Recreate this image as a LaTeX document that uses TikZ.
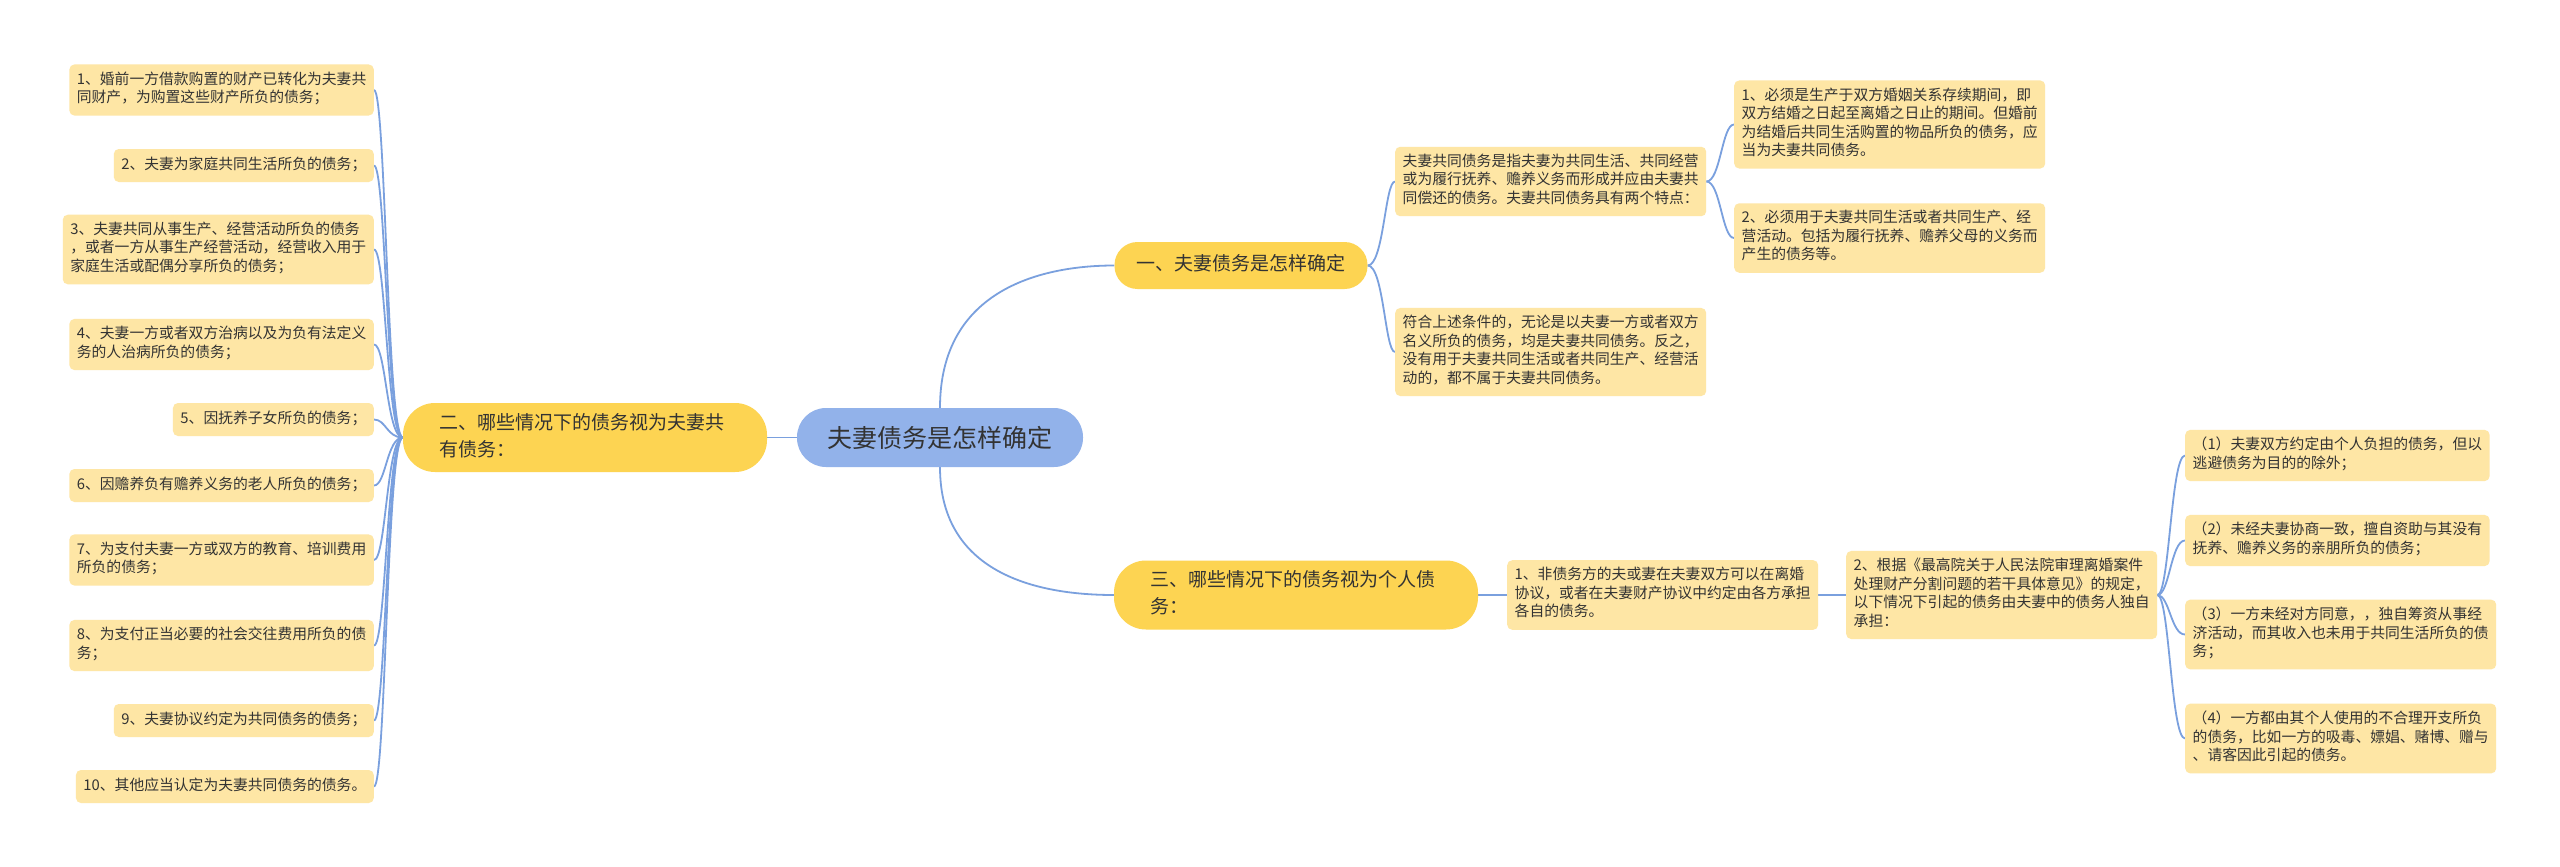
\documentclass[tikz,border=0pt]{standalone}
\usepackage{fontspec}
\newfontfamily\cjkf{Noto Sans CJK SC}
\definecolor{rootblue}{HTML}{92B2EA}
\definecolor{branchyel}{HTML}{FDD452}
\definecolor{leafyel}{HTML}{FEE6A5}
\definecolor{linkblue}{HTML}{7AA0DE}
\definecolor{txt}{HTML}{333333}
\pgfdeclarelayer{bg}
\pgfsetlayers{bg,main}
\begin{document}
\begin{tikzpicture}[x=1pt,y=-1pt,
  leaf/.style={fill=leafyel,rounded corners=5pt,inner xsep=7.5pt,inner ysep=7.25pt,align=left,text=txt,
    font=\cjkf\fontsize{14.8pt}{18.5pt}\selectfont,execute at begin node=\strut,execute at end node=\strut},
  branch/.style={fill=branchyel,text=txt,align=left,font=\cjkf\fontsize{19pt}{27pt}\selectfont,
    execute at begin node=\strut,execute at end node=\strut},
  twoline/.style={branch,rounded corners=32pt,text width=292pt,inner xsep=36pt,inner ysep=7.5pt},
  rootnode/.style={fill=rootblue,text=txt,rounded corners=29pt,minimum width=286pt,minimum height=59pt,
    font=\cjkf\fontsize{25pt}{30pt}\selectfont},
  conn/.style={draw=linkblue,line width=1.8pt}]
\useasboundingbox (0,0) rectangle (2560,867);

% root and branches
\node[rootnode] (root) at (940,437.5) {夫妻债务是怎样确定};
\node[branch,rounded corners=23pt,inner xsep=22pt,inner ysep=10pt] (b1) at (1241,265.5) {一、夫妻债务是怎样确定};
\node[twoline] (b2) at (585,437.5) {二、哪些情况下的债务视为夫妻共\\有债务：};
\node[twoline] (b3) at (1296,595) {三、哪些情况下的债务视为个人债\\务：};

% left leaves
\node[leaf,anchor=east] (L1) at (374,90) {1、婚前一方借款购置的财产已转化为夫妻共\\同财产，为购置这些财产所负的债务；};
\node[leaf,anchor=east] (L2) at (374,165.5) {2、夫妻为家庭共同生活所负的债务；};
\node[leaf,anchor=east] (L3) at (374,249.5) {3、夫妻共同从事生产、经营活动所负的债务\\，或者一方从事生产经营活动，经营收入用于\\家庭生活或配偶分享所负的债务；};
\node[leaf,anchor=east] (L4) at (374,344.5) {4、夫妻一方或者双方治病以及为负有法定义\\务的人治病所负的债务；};
\node[leaf,anchor=east] (L5) at (374,419.5) {5、因抚养子女所负的债务；};
\node[leaf,anchor=east] (L6) at (374,485.5) {6、因赡养负有赡养义务的老人所负的债务；};
\node[leaf,anchor=east] (L7) at (374,560) {7、为支付夫妻一方或双方的教育、培训费用\\所负的债务；};
\node[leaf,anchor=east] (L8) at (374,645.5) {8、为支付正当必要的社会交往费用所负的债\\务；};
\node[leaf,anchor=east] (L9) at (374,720.5) {9、夫妻协议约定为共同债务的债务；};
\node[leaf,anchor=east] (L10) at (374,786.5) {10、其他应当认定为夫妻共同债务的债务。};

% branch one children
\node[leaf,anchor=west] (def) at (1395,181.5) {夫妻共同债务是指夫妻为共同生活、共同经营\\或为履行抚养、赡养义务而形成并应由夫妻共\\同偿还的债务。夫妻共同债务具有两个特点：};
\node[leaf,anchor=west] (cond) at (1395,352) {符合上述条件的，无论是以夫妻一方或者双方\\名义所负的债务，均是夫妻共同债务。反之，\\没有用于夫妻共同生活或者共同生产、经营活\\动的，都不属于夫妻共同债务。};
\node[leaf,anchor=west] (C1) at (1734,124.5) {1、必须是生产于双方婚姻关系存续期间，即\\双方结婚之日起至离婚之日止的期间。但婚前\\为结婚后共同生活购置的物品所负的债务，应\\当为夫妻共同债务。};
\node[leaf,anchor=west] (C2) at (1734,238) {2、必须用于夫妻共同生活或者共同生产、经\\营活动。包括为履行抚养、赡养父母的义务而\\产生的债务等。};

% branch three children
\node[leaf,anchor=west] (N1) at (1507,595) {1、非债务方的夫或妻在夫妻双方可以在离婚\\协议，或者在夫妻财产协议中约定由各方承担\\各自的债务。};
\node[leaf,anchor=west] (N2) at (1846,595) {2、根据《最高院关于人民法院审理离婚案件\\处理财产分割问题的若干具体意见》的规定，\\以下情况下引起的债务由夫妻中的债务人独自\\承担：};
\node[leaf,anchor=west] (P1) at (2185,455.5) {（1）夫妻双方约定由个人负担的债务，但以\\逃避债务为目的的除外；};
\node[leaf,anchor=west] (P2) at (2185,540.5) {（2）未经夫妻协商一致，擅自资助与其没有\\抚养、赡养义务的亲朋所负的债务；};
\node[leaf,anchor=west] (P3) at (2185,634.5) {（3）一方未经对方同意，，独自筹资从事经\\济活动，而其收入也未用于共同生活所负的债\\务；};
\node[leaf,anchor=west] (P4) at (2185,738.5) {（4）一方都由其个人使用的不合理开支所负\\的债务，比如一方的吸毒、嫖娼、赌博、赠与\\、请客因此引起的债务。};

\begin{pgfonlayer}{bg}
\fill[white] (0,0) rectangle (2560,867);
\draw[conn] (root.west) -- (b2.east);
\draw[conn] (root.north) .. controls +(0,-120) and +(-70,0) .. (b1.west);
\draw[conn] (root.south) .. controls +(0,110) and +(-70,0) .. (b3.west);
\foreach \n in {L1,L2,L3,L4,L5,L6,L7,L8,L9,L10}
  \draw[conn] (b2.west) .. controls +(-16,0) and +(12,0) .. (\n.east);
\foreach \n in {def,cond}
  \draw[conn] (b1.east) .. controls +(16,0) and +(-10,0) .. (\n.west);
\foreach \n in {C1,C2}
  \draw[conn] (def.east) .. controls +(14,0) and +(-12,0) .. (\n.west);
\draw[conn] (b3.east) -- (N1.west);
\draw[conn] (N1.east) -- (N2.west);
\foreach \n in {P1,P2,P3,P4}
  \draw[conn] (N2.east) .. controls +(12,0) and +(-14,0) .. (\n.west);
\end{pgfonlayer}
\end{tikzpicture}
\end{document}
